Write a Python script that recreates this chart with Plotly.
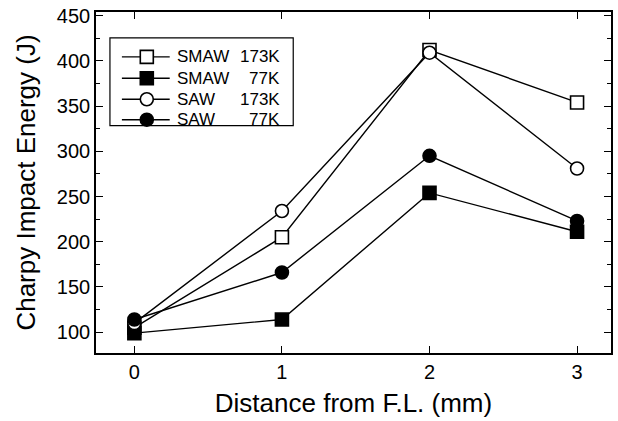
import plotly.graph_objects as go

distance = [0, 1, 2, 3]
smaw_173 = [105, 205, 412, 354]
smaw_77 = [99, 114, 254, 211]
saw_173 = [110, 234, 409, 281]
saw_77 = [114, 166, 295, 223]

methods = ["SMAW", "SMAW", "SAW", "SAW"]
temps = ["173K", "77K", "173K", "77K"]
series = [smaw_173, smaw_77, saw_173, saw_77]
symbols = ["square", "square", "circle", "circle"]
fills = ["white", "black", "white", "black"]

font_family = "Liberation Sans, Arial"

fig = go.Figure()
for m, t, ys, sym, fc in zip(methods, temps, series, symbols, fills):
    fig.add_trace(go.Scatter(
        x=distance, y=ys, name=f"{m} {t}", mode="lines+markers", showlegend=False,
        line=dict(color="black", width=1.4),
        marker=dict(symbol=sym, size=13, color=fc, line=dict(color="black", width=1.6)),
    ))

axis_common = dict(
    showline=True, linecolor="black", linewidth=1.6, mirror="ticks",
    ticks="inside", ticklen=7, tickwidth=1.3, tickcolor="black",
    showgrid=False, zeroline=False, ticklabeloverflow="allow",
    tickfont=dict(family=font_family, size=20, color="black"),
)
fig.update_xaxes(range=[-0.26, 3.23], tickvals=distance, ticktext=["0", "1", "2", "3"],
                 title=dict(text="Distance from F.L. (mm)", font=dict(family=font_family, size=26, color="black"), standoff=12),
                 **axis_common)
fig.update_yaxes(range=[77, 454], tickvals=[100, 150, 200, 250, 300, 350, 400, 450],
                 minor=dict(dtick=25, ticks="inside", ticklen=4, tickcolor="black", tickwidth=1),
                 title=dict(text="Charpy Impact Energy (J)", font=dict(family=font_family, size=26, color="black"), standoff=14),
                 **axis_common)

# Legend drawn as a framed key (layout pixels -> paper coordinates)
L, R, T, B = 96, 5, 11, 68
W, H = 618 - L - R, 421 - T - B
def px2x(px):
    return (px - L) / W
def px2y(py):
    return (421 - B - py) / H

shapes = [dict(type="rect", xref="paper", yref="paper", x0=px2x(110), x1=px2x(294),
               y0=px2y(125), y1=px2y(37), line=dict(color="black", width=1.2), layer="above")]
annotations = []
key_rows = [56, 77.5, 98.5, 119]
for cy, m, t, sym, fc in zip(key_rows, methods, temps, symbols, fills):
    shapes.append(dict(type="line", xref="paper", yref="paper", x0=px2x(122), x1=px2x(170),
                       y0=px2y(cy), y1=px2y(cy), line=dict(color="black", width=1.4), layer="above"))
    shapes.append(dict(type="rect" if sym == "square" else "circle", xref="paper", yref="paper",
                       xsizemode="pixel", ysizemode="pixel", xanchor=px2x(147), yanchor=px2y(cy),
                       x0=-6.5, x1=6.5, y0=-6.5, y1=6.5, fillcolor=fc,
                       line=dict(color="black", width=1.6), layer="above"))
    annotations.append(dict(text=m, xref="paper", yref="paper", x=px2x(176), y=px2y(cy),
                            xanchor="left", yanchor="middle", showarrow=False, borderpad=0,
                            font=dict(family=font_family, size=17, color="black")))
    annotations.append(dict(text=t, xref="paper", yref="paper", x=px2x(282), y=px2y(cy),
                            xanchor="right", yanchor="middle", showarrow=False, borderpad=0,
                            font=dict(family=font_family, size=17, color="black")))

fig.update_layout(
    width=618, height=421,
    margin=dict(l=L, r=R, t=T, b=B),
    paper_bgcolor="white", plot_bgcolor="white",
    shapes=shapes, annotations=annotations,
    showlegend=False,
)
fig.write_html("out.html")
